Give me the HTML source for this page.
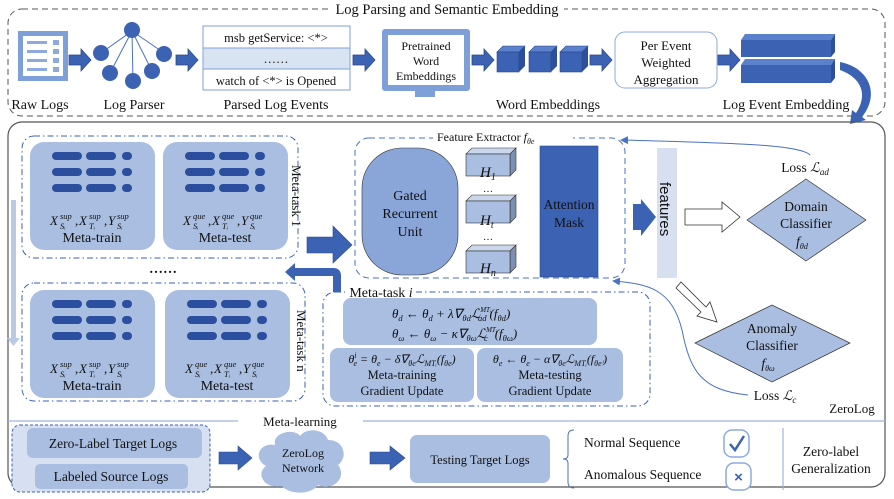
<!DOCTYPE html>
<html><head><meta charset="utf-8"><style>
body{margin:0;background:#fff}
svg{display:block}
text{font-family:"Liberation Serif",serif;fill:#111}
.it{font-style:italic}
</style></head><body>
<svg width="894" height="499" viewBox="0 0 894 499" xmlns="http://www.w3.org/2000/svg">
<defs>
<marker id="ah" markerWidth="8" markerHeight="8" refX="6" refY="4" orient="auto" markerUnits="userSpaceOnUse"><path d="M0,0 L8,4 L0,8 z" fill="#4a72c4"/></marker>
<g id="fat"><path d="M0,-5 H12 V-11 L22,0 L12,11 V5 H0 z" fill="#3c62b4" stroke="#2b4a8a" stroke-width="0.8"/></g>
<g id="card">
<rect x="0" y="0" width="125" height="108" rx="14" fill="#a9bee0"/>
<rect x="22" y="10" width="30" height="8" rx="4" fill="#2b4f9e"/><rect x="56" y="10" width="30" height="8" rx="4" fill="#2b4f9e"/><rect x="92" y="10" width="10" height="8" rx="4" fill="#2b4f9e"/>
<rect x="22" y="26" width="30" height="8" rx="4" fill="#2b4f9e"/><rect x="56" y="26" width="30" height="8" rx="4" fill="#2b4f9e"/><rect x="92" y="26" width="10" height="8" rx="4" fill="#2b4f9e"/>
<rect x="22" y="42" width="30" height="8" rx="4" fill="#2b4f9e"/><rect x="56" y="42" width="30" height="8" rx="4" fill="#2b4f9e"/><rect x="92" y="42" width="10" height="8" rx="4" fill="#2b4f9e"/>
</g>
<g id="fsup">
<text x="20" y="83" font-size="13" class="it">X</text><text x="30" y="77" font-size="8.5" class="it">sup</text><text x="30" y="87" font-size="8.5" class="it">Sᵢ</text>
<text x="45" y="83" font-size="13">,</text>
<text x="49" y="83" font-size="13" class="it">X</text><text x="59" y="77" font-size="8.5" class="it">sup</text><text x="59" y="87" font-size="8.5" class="it">Tᵢ</text>
<text x="74" y="83" font-size="13">,</text>
<text x="78" y="83" font-size="13" class="it">Y</text><text x="87" y="77" font-size="8.5" class="it">sup</text><text x="87" y="87" font-size="8.5" class="it">Sᵢ</text>
<text x="62" y="100" font-size="14" text-anchor="middle">Meta-train</text>
</g>
<g id="fque">
<text x="20" y="83" font-size="13" class="it">X</text><text x="30" y="77" font-size="8.5" class="it">que</text><text x="30" y="87" font-size="8.5" class="it">Sᵢ</text>
<text x="45" y="83" font-size="13">,</text>
<text x="49" y="83" font-size="13" class="it">X</text><text x="59" y="77" font-size="8.5" class="it">que</text><text x="59" y="87" font-size="8.5" class="it">Tᵢ</text>
<text x="74" y="83" font-size="13">,</text>
<text x="78" y="83" font-size="13" class="it">Y</text><text x="87" y="77" font-size="8.5" class="it">que</text><text x="87" y="87" font-size="8.5" class="it">Sᵢ</text>
<text x="62" y="100" font-size="14" text-anchor="middle">Meta-test</text>
</g>
<g id="cube"><path d="M0,6 L6,0 H28 L22,6 z" fill="#5b80cc" stroke="#2b4a8a" stroke-width="0.6"/><path d="M22,6 L28,0 V20 L22,26 z" fill="#2c4f98"/><rect x="0" y="6" width="22" height="20" fill="#3c62b4" stroke="#2b4a8a" stroke-width="0.6"/></g>
<g id="hbox"><path d="M0,6 L6,0 H50 L44,6 z" fill="#c9d6ec" stroke="#333" stroke-width="0.6"/><path d="M44,6 L50,0 V22 L44,28 z" fill="#7d90b0" stroke="#333" stroke-width="0.6"/><rect x="0" y="6" width="44" height="22" fill="#a9bee0" stroke="#333" stroke-width="0.6"/></g>
</defs>

<rect x="8" y="9" width="877" height="107" rx="14" fill="none" stroke="#555" stroke-dasharray="6,4"/>
<rect x="328" y="0" width="236" height="18" fill="#fff"/>
<text x="447" y="14" font-size="14.5" text-anchor="middle">Log Parsing and Semantic Embedding</text>

<rect x="18" y="31" width="50" height="50" fill="#7f9fd9"/>
<rect x="23" y="36" width="40" height="40" fill="#fff"/>
<g fill="#8caae0"><rect x="27" y="41" width="20" height="3"/><rect x="53" y="40" width="6" height="5"/><rect x="27" y="50" width="20" height="3"/><rect x="53" y="49" width="6" height="5"/><rect x="27" y="59" width="20" height="3"/><rect x="53" y="58" width="6" height="5"/><rect x="27" y="68" width="20" height="3"/><rect x="53" y="67" width="6" height="5"/></g>
<use href="#fat" x="69" y="60"/>
<g stroke="#4a72c4" stroke-width="1"><line x1="132" y1="31" x2="101" y2="53"/><line x1="132" y1="31" x2="164" y2="53"/><line x1="132" y1="31" x2="110" y2="73"/><line x1="132" y1="31" x2="133" y2="81"/><line x1="132" y1="31" x2="152" y2="71"/></g>
<g fill="#3c62b4"><circle cx="132" cy="30" r="8"/><circle cx="101" cy="53" r="8"/><circle cx="164" cy="54" r="8"/><circle cx="110" cy="73" r="8"/><circle cx="133" cy="81" r="8"/><circle cx="152" cy="71" r="8"/></g>
<use href="#fat" x="176" y="60"/>
<rect x="203" y="26" width="147" height="22" fill="#fff" stroke="#7f9fd9"/>
<rect x="203" y="48" width="147" height="21" fill="#d9e4f3" stroke="#7f9fd9"/>
<rect x="203" y="69" width="147" height="21" fill="#fff" stroke="#7f9fd9"/>
<text x="276" y="42" font-size="12.5" text-anchor="middle">msb getService: &lt;*&gt;</text>
<text x="276" y="63" font-size="12.5" text-anchor="middle">……</text>
<text x="276" y="85" font-size="12.5" text-anchor="middle">watch of &lt;*&gt; is Opened</text>
<use href="#fat" x="353" y="60"/>
<rect x="382" y="29" width="88" height="62" rx="3" fill="#7f9fd9"/>
<rect x="388" y="35" width="76" height="50" fill="#fff"/>
<rect x="415" y="91" width="20" height="6" fill="#7f9fd9"/>
<text x="426" y="50" font-size="12" text-anchor="middle">Pretrained</text>
<text x="426" y="65" font-size="12" text-anchor="middle">Word</text>
<text x="426" y="80" font-size="12" text-anchor="middle">Embeddings</text>
<use href="#fat" x="472" y="60"/>
<use href="#cube" x="497" y="46"/><use href="#cube" x="529" y="46"/><use href="#cube" x="560" y="46"/>
<use href="#fat" x="590" y="60"/>
<rect x="615" y="32" width="102" height="56" rx="10" fill="#fff" stroke="#8caae0"/>
<text x="666" y="50" font-size="13" text-anchor="middle">Per Event</text>
<text x="666" y="67" font-size="13" text-anchor="middle">Weighted</text>
<text x="666" y="84" font-size="13" text-anchor="middle">Aggregation</text>
<use href="#fat" x="718" y="60"/>
<path d="M741,40 L745,34 H835 L831,40 z" fill="#5b80cc"/><path d="M831,40 L835,34 V52 L831,57 z" fill="#2c4f98"/><rect x="741" y="40" width="90" height="17" fill="#3c62b4"/>
<path d="M741,65 L745,59 H835 L831,65 z" fill="#5b80cc"/><path d="M831,65 L835,59 V78 L831,83 z" fill="#2c4f98"/><rect x="741" y="65" width="90" height="18" fill="#3c62b4"/>
<g font-size="14"><text x="40" y="109" text-anchor="middle">Raw Logs</text><text x="134" y="109" text-anchor="middle">Log Parser</text><text x="276" y="109" text-anchor="middle">Parsed Log Events</text><text x="548" y="109" text-anchor="middle">Word Embeddings</text><text x="786" y="109" text-anchor="middle">Log Event Embedding</text></g>
<path d="M840,62 C870,68 880,95 862,117 L866,120 L850,124 L852,110 L856,113 C868,95 862,78 840,70 z" fill="#3c62b4"/>

<rect x="8" y="122" width="877" height="365" rx="14" fill="none" stroke="#555" stroke-width="1.2"/>
<rect x="11" y="200" width="5" height="140" fill="#b9c9e6"/><path d="M7,338 L20,338 L13.5,346 z" fill="#b9c9e6"/>

<rect x="22" y="136" width="276" height="122" rx="12" fill="none" stroke="#3c62b4" stroke-dasharray="6,3,1.5,3"/>
<use href="#card" x="30" y="142"/><use href="#card" x="163" y="142"/>
<use href="#fsup" x="30" y="142"/><use href="#fque" x="163" y="142"/>
<text x="292" y="165" font-size="13" transform="rotate(90 292 165)">Meta-task 1</text>
<rect x="22" y="283" width="283" height="118" rx="12" fill="none" stroke="#3c62b4" stroke-dasharray="6,3,1.5,3"/>
<use href="#card" x="30" y="290"/><use href="#card" x="165" y="290"/>
<use href="#fsup" x="30" y="290"/><use href="#fque" x="165" y="290"/>
<text x="297" y="310" font-size="13" transform="rotate(90 297 310)">Meta-task n</text>
<text x="163" y="273" font-size="14" text-anchor="middle" font-weight="bold">……</text>
<path d="M307,237 H333 V226 L352,245 L333,263 V253 H307 z" fill="#3c62b4" stroke="#2b4a8a" stroke-width="0.6"/>
<path d="M341,292 V276 Q341,268 333,268 H295 V263 L285,272 L295,281 V276 H333 V292 z" fill="#3c62b4"/>

<rect x="355" y="138" width="270" height="140" rx="14" fill="none" stroke="#4a72c4" stroke-dasharray="6,4"/>
<rect x="433" y="129" width="140" height="16" fill="#fff"/>
<text x="437" y="141" font-size="12">Feature Extractor <tspan class="it">f</tspan><tspan class="it" font-size="8" dy="3">θe</tspan></text>
<rect x="362" y="148" width="96" height="127" rx="40" fill="#8aa6d8" stroke="#333" stroke-width="0.6"/>
<text x="410" y="200" font-size="14" text-anchor="middle">Gated</text>
<text x="410" y="218" font-size="14" text-anchor="middle">Recurrent</text>
<text x="410" y="236" font-size="14" text-anchor="middle">Unit</text>
<use href="#hbox" x="466" y="148"/><use href="#hbox" x="466" y="195"/><use href="#hbox" x="466" y="245"/>
<g font-size="15"><text x="480" y="177" class="it">H<tspan font-size="10" dy="3">1</tspan></text><text x="480" y="225" class="it">H<tspan font-size="10" dy="3">t</tspan></text><text x="480" y="273" class="it">H<tspan font-size="10" dy="3">n</tspan></text></g>
<text x="488" y="192" font-size="10" text-anchor="middle">…</text><text x="488" y="240" font-size="10" text-anchor="middle">…</text>
<rect x="540" y="146" width="58" height="131" fill="#3c62b4" stroke="#2b4a8a" stroke-width="0.6"/>
<text x="569" y="209" font-size="13.5" text-anchor="middle">Attention</text>
<text x="569" y="227" font-size="13.5" text-anchor="middle">Mask</text>
<path d="M633,204 H641 V199 L656,217 L641,236 V230 H633 z" fill="#3c62b4"/>
<rect x="657" y="148" width="20" height="130" fill="#d6e0f0"/>
<text x="660" y="182" font-size="15" transform="rotate(90 660 182)" style="font-family:'Liberation Sans',sans-serif">features</text>
<path d="M685,209 H722 V202 L740,217 L722,232 V225 H685 z" fill="#fff" stroke="#333" stroke-width="0.8"/>
<path d="M747,220 L806,179 L866,220 L806,261 z" fill="#a9bee0" stroke="#333" stroke-width="0.7"/>
<text x="806" y="211" font-size="13.5" text-anchor="middle">Domain</text>
<text x="806" y="228" font-size="13.5" text-anchor="middle">Classifier</text>
<text x="802" y="246" font-size="13.5" class="it" text-anchor="middle">f<tspan font-size="8" dy="3">θd</tspan></text>
<text x="805" y="172" font-size="13.5" text-anchor="middle">Loss <tspan class="it">ℒ</tspan><tspan class="it" font-size="9" dy="3">ad</tspan></text>
<path d="M676,288 L681,282 L706,307 L710,302 L717,322 L697,316 L701,312 z" fill="#fff" stroke="#333" stroke-width="0.8"/>
<path d="M695,343 L772,305 L850,343 L772,382 z" fill="#a9bee0" stroke="#333" stroke-width="0.7"/>
<text x="772" y="333" font-size="13.5" text-anchor="middle">Anomaly</text>
<text x="772" y="350" font-size="13.5" text-anchor="middle">Classifier</text>
<text x="768" y="368" font-size="13.5" class="it" text-anchor="middle">f<tspan font-size="8" dy="3">θω</tspan></text>
<text x="775" y="400" font-size="13.5" text-anchor="middle">Loss <tspan class="it">ℒ</tspan><tspan class="it" font-size="9" dy="3">c</tspan></text>
<text x="852" y="413" font-size="13" text-anchor="middle">ZeroLog</text>
<path d="M810,155 C800,145 740,143 622,140" fill="none" stroke="#4a72c4" stroke-width="1" marker-end="url(#ah)"/>
<path d="M748,395 C700,390 690,370 682,330 C672,290 650,284 614,281" fill="none" stroke="#4a72c4" stroke-width="1" marker-end="url(#ah)"/>

<rect x="323" y="292" width="327" height="114" rx="12" fill="none" stroke="#3c62b4" stroke-dasharray="6,3,1.5,3"/>
<rect x="345" y="287" width="70" height="12" fill="#fff"/>
<text x="381" y="297" font-size="14" text-anchor="middle">Meta-task <tspan class="it">i</tspan></text>
<rect x="343" y="298" width="254" height="47" rx="8" fill="#a9bee0"/>
<rect x="330" y="348" width="144" height="54" rx="8" fill="#a9bee0"/>
<rect x="477" y="348" width="146" height="54" rx="8" fill="#a9bee0"/>
<g font-size="13">
<text x="392" y="318" class="it">θ<tspan font-size="8.5" dy="3">d</tspan><tspan dy="-3"> ← θ</tspan><tspan font-size="8.5" dy="3">d</tspan><tspan dy="-3"> + λ∇</tspan><tspan font-size="8.5" dy="3">θd</tspan><tspan dy="-3">ℒ</tspan><tspan font-size="7" dy="-6">MTᵢ</tspan><tspan font-size="8.5" dx="-13" dy="9">ad</tspan><tspan dy="-3" dx="3">(f</tspan><tspan font-size="8.5" dy="3">θd</tspan><tspan dy="-3">)</tspan></text>
<text x="392" y="338" class="it">θ<tspan font-size="8.5" dy="3">ω</tspan><tspan dy="-3"> ← θ</tspan><tspan font-size="8.5" dy="3">ω</tspan><tspan dy="-3"> − κ∇</tspan><tspan font-size="8.5" dy="3">θω</tspan><tspan dy="-3">ℒ</tspan><tspan font-size="7" dy="-6">MTᵢ</tspan><tspan font-size="8.5" dx="-13" dy="9">c</tspan><tspan dy="-3" dx="7">(f</tspan><tspan font-size="8.5" dy="3">θω</tspan><tspan dy="-3">)</tspan></text>
</g>
<g font-size="12.5" text-anchor="middle">
<text x="402" y="363" class="it" font-size="12">θ<tspan font-size="8" dy="-5">i</tspan><tspan font-size="8" dx="-3" dy="8">e</tspan><tspan dy="-3"> = θ</tspan><tspan font-size="8" dy="3">e</tspan><tspan dy="-3"> − δ∇</tspan><tspan font-size="8" dy="3">θe</tspan><tspan dy="-3">ℒ</tspan><tspan font-size="8" dy="3">MTᵢ</tspan><tspan dy="-3">(f</tspan><tspan font-size="8" dy="3">θe</tspan><tspan dy="-3">)</tspan></text>
<text x="402" y="379">Meta-training</text><text x="402" y="395">Gradient Update</text>
<text x="550" y="363" class="it" font-size="12">θ<tspan font-size="8" dy="3">e</tspan><tspan dy="-3"> ← θ</tspan><tspan font-size="8" dy="3">e</tspan><tspan dy="-3"> − α∇</tspan><tspan font-size="8" dy="3">θe</tspan><tspan dy="-3">ℒ</tspan><tspan font-size="8" dy="3">MTᵢ</tspan><tspan dy="-3">(f</tspan><tspan font-size="8" dy="3">θeⁱ</tspan><tspan dy="-3">)</tspan></text>
<text x="550" y="379">Meta-testing</text><text x="550" y="395">Gradient Update</text>
</g>

<line x1="8" y1="421" x2="885" y2="421" stroke="#9fb3d9" stroke-width="1.2"/>
<rect x="238" y="413" width="125" height="16" fill="#fff"/>
<text x="300" y="426" font-size="13" text-anchor="middle">Meta-learning</text>
<rect x="12" y="425" width="198" height="67" rx="8" fill="#d6e0f0" stroke="#3c62b4" stroke-dasharray="3,2"/>
<rect x="27" y="428" width="175" height="30" rx="6" fill="#a9bee0"/>
<rect x="35" y="464" width="153" height="25" rx="5" fill="#a9bee0"/>
<text x="113" y="448" font-size="13.5" text-anchor="middle">Zero-Label Target Logs</text>
<text x="111" y="481" font-size="13.5" text-anchor="middle">Labeled Source Logs</text>
<path d="M219,452 H238 V446 L252,458 L238,470 V464 H219 z" fill="#3c62b4" stroke="#2b4a8a" stroke-width="0.6"/>
<path d="M275,445 C272,432 295,428 300,436 C308,426 325,430 328,440 C345,440 348,458 338,465 C348,478 332,492 318,485 C310,496 288,494 282,486 C265,490 255,474 266,466 C252,458 260,442 275,445 z" fill="#a9bee0"/>
<text x="303" y="457" font-size="12" text-anchor="middle">ZeroLog</text>
<text x="303" y="472" font-size="12" text-anchor="middle">Network</text>
<path d="M370,452 H390 V446 L405,458 L390,470 V464 H370 z" fill="#3c62b4" stroke="#2b4a8a" stroke-width="0.6"/>
<rect x="410" y="435" width="140" height="48" rx="7" fill="#a9bee0"/>
<text x="480" y="464" font-size="12.5" text-anchor="middle">Testing Target Logs</text>
<path d="M574,430 Q568,430 568,436 V455 Q568,459 563,459 Q568,459 568,463 V482 Q568,488 574,488" fill="none" stroke="#4a72c4" stroke-width="1"/>
<text x="584" y="447" font-size="13.5">Normal Sequence</text>
<text x="584" y="479" font-size="13.5">Anomalous Sequence</text>
<rect x="724" y="430" width="25" height="27" rx="8" fill="#fff" stroke="#8caae0" stroke-width="1.5"/>
<path d="M730,444 L735,450 L744,436" fill="none" stroke="#3c62b4" stroke-width="2.5"/>
<rect x="726" y="463" width="25" height="27" rx="8" fill="#fff" stroke="#8caae0" stroke-width="1.5"/>
<text x="738.5" y="482" font-size="15" text-anchor="middle" style="fill:#3c62b4;font-family:'Liberation Sans',sans-serif;font-weight:bold">×</text>
<line x1="783" y1="428" x2="783" y2="490" stroke="#9fb3d9" stroke-width="1.2"/>
<text x="831" y="456" font-size="13.5" text-anchor="middle">Zero-label</text>
<text x="831" y="473" font-size="13.5" text-anchor="middle">Generalization</text>
</svg>
</body></html>
